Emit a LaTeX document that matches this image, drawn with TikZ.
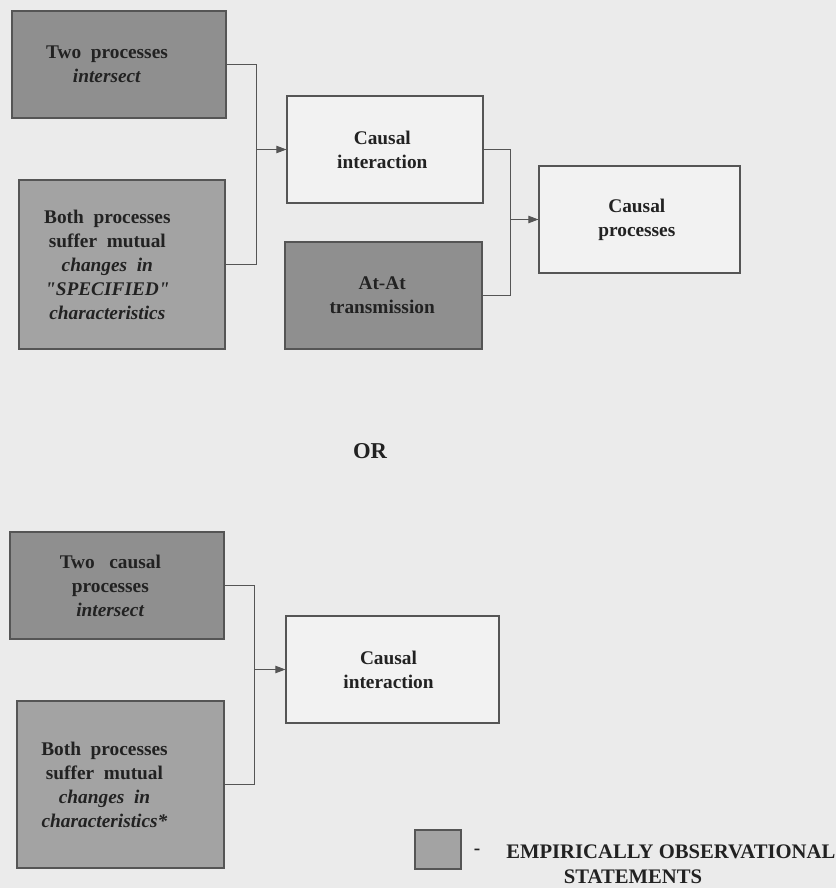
\documentclass[tikz,border=0pt]{standalone}
\usepackage{fontspec}
\setmainfont{Liberation Serif}
\usetikzlibrary{arrows.meta}
\definecolor{bgcol}{HTML}{EBEBEB}
\definecolor{darkfill}{HTML}{8F8F8F}
\definecolor{lightfill}{HTML}{A3A3A3}
\definecolor{plainfill}{HTML}{F2F2F2}
\definecolor{edgecol}{HTML}{555555}
\definecolor{inkcol}{HTML}{222222}
\begin{document}
\begin{tikzpicture}[x=0.75pt,y=-0.75pt,
  box/.style={draw=edgecol, line width=0.8pt, inner sep=0pt},
  dark/.style={box, fill=darkfill},
  light/.style={box, fill=lightfill},
  plain/.style={box, fill=plainfill},
  txt/.style={text=inkcol, align=center, inner sep=0pt,
    font=\fontsize{14.5}{18}\selectfont\bfseries},
  conn/.style={draw=edgecol, line width=0.7pt},
  arr/.style={conn, -{Triangle[length=7.5pt,width=5.5pt]}}]
\fill[bgcol] (0,0) rectangle (836,888);
\useasboundingbox (0,0) rectangle (836,888);

% ---- first scheme ----
\node[dark, minimum width=214*0.75pt, minimum height=107*0.75pt] (A) at (119,64.5) {};
\node[txt] (At) at ([xshift=-9pt]A.center) {Two\ \ processes\\\textit{intersect}};

\node[light, minimum width=206*0.75pt, minimum height=169*0.75pt] (B) at (122,264.5) {};
\node[txt] (Bt) at ([xshift=-11pt]B.center) {Both\ \ processes\\suffer\ \ mutual\\\textit{changes\ \ in}\\{\addfontfeatures{Ligatures=TeXOff}\itshape "SPECIFIED"}\\\textit{characteristics}};

\node[plain, minimum width=196*0.75pt, minimum height=107*0.75pt] (C) at (385,149.5) {};
\node[txt] (Ct) at ([xshift=-2pt]C.center) {Causal\\interaction};

\node[dark, minimum width=197*0.75pt, minimum height=107*0.75pt] (D) at (383.5,295.5) {};
\node[txt] (Dt) at ([xshift=-1pt]D.center) {At-At\\transmission};

\node[plain, minimum width=201*0.75pt, minimum height=107*0.75pt] (E) at (639.5,219.5) {};
\node[txt] (Et) at ([xshift=-2pt]E.center) {Causal\\processes};

\path (C.west) -- ++(-30,0) coordinate (j1);
\draw[conn] (A.east) -| (j1) |- (B.east);
\draw[arr] (j1) -- (C.west);

\path (E.west) -- ++(-28,0) coordinate (j2);
\draw[conn] (C.east) -| (j2) |- (D.east);
\draw[arr] (j2) -- (E.west);

\node[txt, font=\fontsize{17}{18}\selectfont\bfseries] (or) at (370,451) {OR};

% ---- second scheme ----
\node[dark, minimum width=214*0.75pt, minimum height=107*0.75pt] (F) at (117,585.5) {};
\node[txt] (Ft) at ([xshift=-5pt]F.center) {Two\ \ \ causal\\processes\\\textit{intersect}};

\node[light, minimum width=207*0.75pt, minimum height=167*0.75pt] (G) at (120.5,784.5) {};
\node[txt] (Gt) at ([xshift=-12pt]G.center) {Both\ \ processes\\suffer\ \ mutual\\\textit{changes\ \ in}\\\textit{characteristics*}};

\node[plain, minimum width=213*0.75pt, minimum height=107*0.75pt] (H) at (392.5,669.5) {};
\node[txt] (Ht) at ([xshift=-3pt]H.center) {Causal\\interaction};

\path (H.west) -- ++(-31,0) coordinate (j3);
\draw[conn] (F.east) -| (j3) |- (G.east);
\draw[arr] (j3) -- (H.west);

% ---- key ----
\node[light, minimum width=46*0.75pt, minimum height=39*0.75pt] (key) at (438,849.5) {};
\node[txt] (dash) at (477,852) {-};
\node[txt, anchor=west, font=\fontsize{15.5}{18}\selectfont\bfseries] (key1) at (506,852) {EMPIRICALLY OBSERVATIONAL};
\node[txt, font=\fontsize{15.5}{18}\selectfont\bfseries] (key2) at (633,877) {STATEMENTS};
\end{tikzpicture}
\end{document}
